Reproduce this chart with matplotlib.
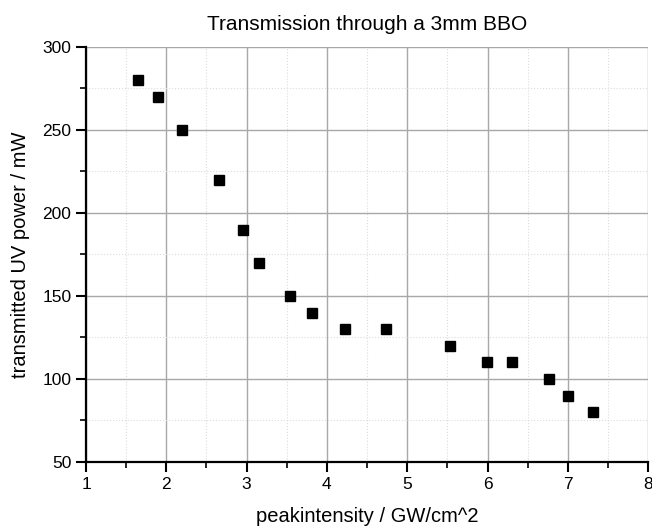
import numpy as np
import matplotlib.pyplot as plt
from matplotlib.ticker import MultipleLocator

plt.rcParams['font.family'] = ['Liberation Sans', 'DejaVu Sans']

# peak intensity (GW/cm^2) and transmitted UV power (mW)
intensity = [1.65, 1.89, 2.20, 2.66, 2.95, 3.16, 3.54, 3.82,
             4.22, 4.73, 5.53, 5.99, 6.30, 6.77, 7.00, 7.31]
power = [280, 270, 250, 220, 190, 170, 150, 140,
         130, 130, 120, 110, 110, 100, 90, 80]

fig = plt.figure(figsize=(6.52, 5.28), dpi=100)
ax = fig.add_axes([0.132, 0.125, 0.862, 0.786])

ax.plot(intensity, power, linestyle='none', marker='s', markersize=6.5,
        color='black', zorder=3)

ax.set_xlim(1, 8)
ax.set_ylim(50, 300)
ax.xaxis.set_major_locator(MultipleLocator(1))
ax.xaxis.set_minor_locator(MultipleLocator(0.5))
ax.yaxis.set_major_locator(MultipleLocator(50))
ax.yaxis.set_minor_locator(MultipleLocator(25))

ax.grid(True, which='major', color='#a8a8a8', linewidth=1.0)
ax.grid(True, which='minor', color='#dcdcdc', linewidth=0.8, linestyle=':')
ax.set_axisbelow(True)

for side in ['top', 'right']:
    ax.spines[side].set_visible(False)
for side in ['left', 'bottom']:
    ax.spines[side].set_linewidth(1.6)

ax.tick_params(which='major', direction='out', length=7, width=1.5, labelsize=12.5)
ax.tick_params(which='minor', direction='out', length=4.5, width=1.2)

ax.set_xlabel('peakintensity / GW/cm^2', fontsize=14.5, labelpad=11)
ax.set_ylabel('transmitted UV power / mW', fontsize=14.5, labelpad=9)
ax.set_title('Transmission through a 3mm BBO', fontsize=15, pad=12)

fig.savefig('out.png', dpi=100)
